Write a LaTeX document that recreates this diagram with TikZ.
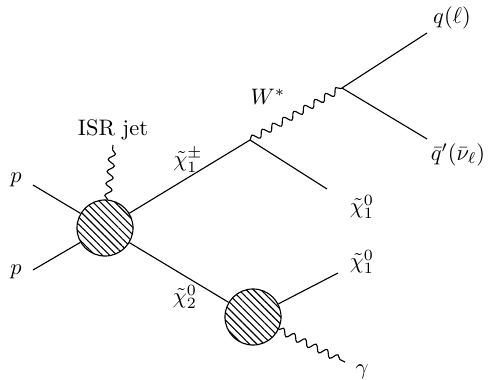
\documentclass[tikz,border=0pt]{standalone}
\usepackage{amsmath}
\usepackage{amssymb}
\usepackage{tikz}
\usetikzlibrary{patterns.meta, decorations.pathmorphing, positioning, calc}

\begin{document}
\begin{tikzpicture}[x=0.446pt, y=-0.446pt, line width=0.5pt,
    blob/.style={circle, draw, inner sep=0pt, minimum size=25pt,
        pattern={Lines[angle=-45, distance=2.3pt, line width=0.5pt]}},
    photon/.style={decorate, decoration={snake, amplitude=1.5pt, segment length=5.4pt}}]
\useasboundingbox (0,0) rectangle (497,379);
% Production blob and decay blob
\node[blob] (b1) at (105,228) {};
\node[blob] (b2) at (253,317) {};
% Vertices and free ends
\coordinate (p1) at (33,185);
\coordinate (p2) at (33,270);
\coordinate (isr) at (113,145);
\coordinate (v1) at (250,140);
\coordinate (v2) at (342,88);
\coordinate (qend) at (427,33);
\coordinate (qbend) at (427,139);
\coordinate (n1end) at (327,189);
\coordinate (n2end) at (338,273);
\coordinate (gend) at (345,362);
% Lines
\draw (p1) -- (b1);
\draw (p2) -- (b1);
\draw[photon] (b1) -- (isr);
\draw (b1) -- (v1);
\draw (b1) -- (b2);
\draw[photon] (v1) -- (v2);
\draw (v2) -- (qend);
\draw (v2) -- (qbend);
\draw (v1) -- (n1end);
\draw (b2) -- (n2end);
\draw[photon] (b2) -- (gend);
% Labels
\node (lp1) at (16,180) {$p$};
\node (lp2) at (16,272) {$p$};
\node (lisr) at (113,130) {ISR jet};
\node (lc1) at (188,160) {$\tilde{\chi}_1^{\pm}$};
\node (lc2) at (185,297) {$\tilde{\chi}_2^{0}$};
\node (lw) at (268,97) {$W^{*}$};
\node (lq) at (452,18) {$q(\ell)$};
\node (lqb) at (458,155) {$\bar{q}'(\bar{\nu}_{\ell})$};
\node (ln1) at (362,207) {$\tilde{\chi}_1^{0}$};
\node (ln2) at (362,262) {$\tilde{\chi}_1^{0}$};
\node (lg) at (362,372) {$\gamma$};
\end{tikzpicture}
\end{document}
